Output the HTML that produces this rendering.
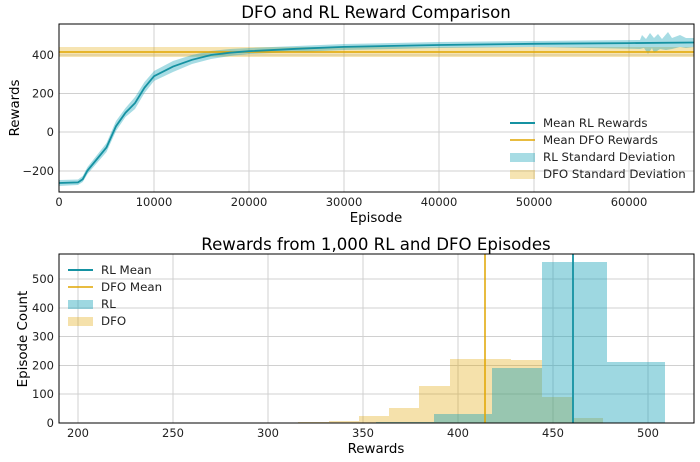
<!DOCTYPE html>
<html><head><meta charset="utf-8"><style>
body{margin:0;background:#fff}
svg{display:block;font-family:"DejaVu Sans","Liberation Sans",sans-serif}
</style></head><body>
<svg width="700" height="462" viewBox="0 0 700 462">
<!-- TOP CHART -->
<g stroke="#d0d0d0" stroke-width="1">
<line x1="154" y1="24" x2="154" y2="192"/><line x1="249" y1="24" x2="249" y2="192"/><line x1="344" y1="24" x2="344" y2="192"/><line x1="439" y1="24" x2="439" y2="192"/><line x1="534" y1="24" x2="534" y2="192"/><line x1="629" y1="24" x2="629" y2="192"/>
<line x1="59" y1="55" x2="694" y2="55"/><line x1="59" y1="93.5" x2="694" y2="93.5"/><line x1="59" y1="132" x2="694" y2="132"/><line x1="59" y1="171" x2="694" y2="171"/>
</g>
<polygon fill="#e1a500" fill-opacity="0.3" points="59,47 694,47 694,57 59,57"/>
<polygon fill="#17a2b8" fill-opacity="0.38" points="59,180 78,179.5 82.75,176 87.5,167 97,155 106.5,143 116,121 125.5,108 135,97 144.5,82 154,71 173,61 192,55 211,51 230,49 249,48 296.5,46 344,44 439,42 534,41 640,40 642,35 646,39 650,33 654,38 658,34 662,39 668,32 672,38 680,35 686,38 694,38 694,47 686,48 680,47 672,49 666,50 660,49 654,53 652,48 648,54 644,48 640,49 534,47 439,48 344,50 296.5,52 249,54 230,56 211,59 192,64 173,72 154,81 144.5,93 135,109 125.5,117 116,131 106.5,152 97,163 87.5,174 82.75,182 78,185 59,186"/>
<line x1="59" y1="52" x2="694" y2="52" stroke="#e1a500" stroke-width="1.5"/>
<polyline fill="none" stroke="#1592a2" stroke-width="1.8" points="59,183 78,182.4 82.75,179.2 87.5,170.5 97,159 106.5,147.4 116,126.2 125.5,112.75 135,103.1 144.5,87.7 154,76.2 173,66.55 192,59.8 211,55 230,52.7 249,51.2 296.5,48.8 344,46.9 439,45 534,43.8 629,43.1 694,42.5"/>
<rect x="59" y="24" width="635" height="168" fill="none" stroke="#000" stroke-width="1"/>
<g font-size="11.5" fill="#222" text-anchor="end">
<text x="54" y="59">400</text><text x="54" y="97.5">200</text><text x="54" y="136">0</text><text x="54" y="175">−200</text>
</g>
<g font-size="11.5" fill="#222" text-anchor="middle">
<text x="59" y="206">0</text><text x="154" y="206">10000</text><text x="249" y="206">20000</text><text x="344" y="206">30000</text><text x="439" y="206">40000</text><text x="534" y="206">50000</text><text x="629" y="206">60000</text>
</g>
<text x="376" y="18" font-size="16.6" text-anchor="middle">DFO and RL Reward Comparison</text>
<text x="376" y="222" font-size="13.4" text-anchor="middle">Episode</text>
<text transform="translate(19,108) rotate(-90)" font-size="13.4" text-anchor="middle">Rewards</text>
<g font-size="11.8" fill="#222">
<line x1="510" y1="123" x2="535" y2="123" stroke="#1592a2" stroke-width="2"/><text x="543" y="127">Mean RL Rewards</text>
<line x1="510" y1="140" x2="535" y2="140" stroke="#e1a500" stroke-width="1.5"/><text x="543" y="144">Mean DFO Rewards</text>
<rect x="510" y="153" width="25" height="9" fill="#17a2b8" fill-opacity="0.38"/><text x="543" y="161">RL Standard Deviation</text>
<rect x="510" y="170" width="25" height="9" fill="#e1a500" fill-opacity="0.3"/><text x="543" y="178">DFO Standard Deviation</text>
</g>
<!-- BOTTOM CHART -->
<g stroke="#d0d0d0" stroke-width="1">
<line x1="78" y1="254" x2="78" y2="423"/><line x1="173" y1="254" x2="173" y2="423"/><line x1="268" y1="254" x2="268" y2="423"/><line x1="363" y1="254" x2="363" y2="423"/><line x1="458" y1="254" x2="458" y2="423"/><line x1="553" y1="254" x2="553" y2="423"/><line x1="648" y1="254" x2="648" y2="423"/>
<line x1="59" y1="394" x2="694" y2="394"/><line x1="59" y1="365.5" x2="694" y2="365.5"/><line x1="59" y1="336.5" x2="694" y2="336.5"/><line x1="59" y1="308" x2="694" y2="308"/><line x1="59" y1="279" x2="694" y2="279"/>
</g>
<g fill="#e1a500" fill-opacity="0.33">
<rect x="298" y="422" width="31" height="1"/><rect x="329" y="421" width="30" height="2"/><rect x="359" y="416" width="30" height="7"/><rect x="389" y="408" width="30" height="15"/><rect x="419" y="386" width="31" height="37"/><rect x="450" y="359" width="61" height="64"/><rect x="511" y="360" width="31" height="63"/><rect x="542" y="397" width="31" height="26"/><rect x="573" y="418" width="30" height="5"/>
</g>
<g fill="#17a2b8" fill-opacity="0.42">
<rect x="376" y="422" width="58" height="1"/><rect x="434" y="414" width="58" height="9"/><rect x="492" y="368" width="50" height="55"/><rect x="542" y="262" width="65" height="161"/><rect x="607" y="362" width="58" height="61"/>
</g>
<line x1="485" y1="254" x2="485" y2="423" stroke="#e1a500" stroke-width="1.5"/>
<line x1="573" y1="254" x2="573" y2="423" stroke="#1592a2" stroke-width="1.8"/>
<rect x="59" y="254" width="635" height="169" fill="none" stroke="#000" stroke-width="1"/>
<g font-size="11.5" fill="#222" text-anchor="end">
<text x="54" y="427">0</text><text x="54" y="398">100</text><text x="54" y="369.5">200</text><text x="54" y="340.5">300</text><text x="54" y="312">400</text><text x="54" y="283">500</text>
</g>
<g font-size="11.5" fill="#222" text-anchor="middle">
<text x="78" y="437">200</text><text x="173" y="437">250</text><text x="268" y="437">300</text><text x="363" y="437">350</text><text x="458" y="437">400</text><text x="553" y="437">450</text><text x="648" y="437">500</text>
</g>
<text x="376" y="250" font-size="16.6" text-anchor="middle">Rewards from 1,000 RL and DFO Episodes</text>
<text x="376" y="453" font-size="13.4" text-anchor="middle">Rewards</text>
<text transform="translate(27,339) rotate(-90)" font-size="13.4" text-anchor="middle">Episode Count</text>
<g font-size="11.8" fill="#222">
<line x1="68" y1="270" x2="93" y2="270" stroke="#1592a2" stroke-width="2"/><text x="101" y="274">RL Mean</text>
<line x1="68" y1="287" x2="93" y2="287" stroke="#e1a500" stroke-width="1.5"/><text x="101" y="291">DFO Mean</text>
<rect x="68" y="300" width="25" height="9" fill="#17a2b8" fill-opacity="0.42"/><text x="101" y="308">RL</text>
<rect x="68" y="317" width="25" height="9" fill="#e1a500" fill-opacity="0.33"/><text x="101" y="325">DFO</text>
</g>
</svg>
</body></html>
